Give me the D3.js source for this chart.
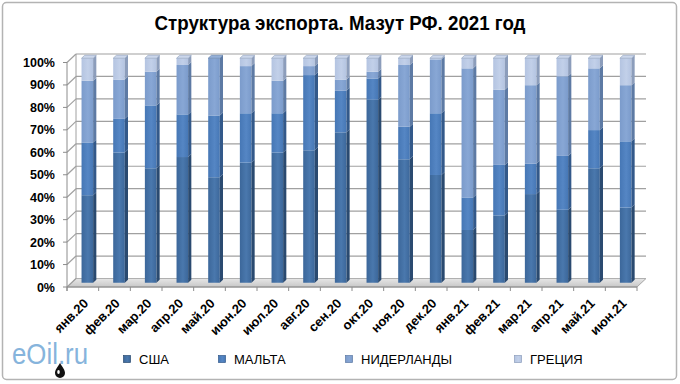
<!DOCTYPE html>
<html>
<head>
<meta charset="utf-8">
<script src="https://cdn.jsdelivr.net/npm/d3@7"></script>
<style>
  body { margin: 0; background: #fff; }
  svg { display: block; }
</style>
</head>
<body>
<svg width="680" height="384"></svg>
<script>
const months = ['янв.20', 'фев.20', 'мар.20', 'апр.20', 'май.20', 'июн.20', 'июл.20', 'авг.20', 'сен.20',
    'окт.20', 'ноя.20', 'дек.20', 'янв.21', 'фев.21', 'мар.21', 'апр.21', 'май.21', 'июн.21'];

// shares, %
const usa = [39, 58, 51, 56, 47, 53.5, 58, 59, 67, 81.5, 55, 48, 23.5, 30, 39.5, 32.5, 51, 33.5];
const malta = [23.5, 15, 28, 19, 27.5, 22, 17.5, 33.5, 18.5, 9.5, 14.5, 27.5, 14.5, 22.5, 13.5, 24, 17, 29.5];
const netherlands = [27.5, 17.5, 15, 22, 25.5, 21, 14.5, 4, 5, 3, 27.5, 24, 57.5, 33.5, 35, 35.5, 27.5, 25];
const greece = [10, 9.5, 6, 3, 0, 3.5, 10, 3.5, 9.5, 6, 3, 0.5, 4.5, 14, 12, 8, 4.5, 12];

const seriesNames = ['США', 'МАЛЬТА', 'НИДЕРЛАНДЫ', 'ГРЕЦИЯ'];
const yTicks = [0, .1, .2, .3, .4, .5, .6, .7, .8, .9, 1];

const colors = {
    'США': {front: '#3c679a', light: '#4a78ad', side: '#2a4a70', top: '#5b83b4'},
    'МАЛЬТА': {front: '#4677b5', light: '#5586c4', side: '#33598a', top: '#6a94c8'},
    'НИДЕРЛАНДЫ': {front: '#7b9bcb', light: '#88a7d5', side: '#5d7aa4', top: '#95b0d8'},
    'ГРЕЦИЯ': {front: '#b4c4e1', light: '#c2d0e9', side: '#8c9dbb', top: '#ccd7ec'}
};

let svg = d3.select('svg');

let rows = months.map(function (m, i) {
    return {month: m, 'США': usa[i], 'МАЛЬТА': malta[i], 'НИДЕРЛАНДЫ': netherlands[i], 'ГРЕЦИЯ': greece[i]};
});

let stack = d3.stack().keys(seriesNames).offset(d3.stackOffsetExpand);
let layers = stack(rows);

// front plane of the 3D box
let x = d3.scaleBand().domain(months).range([67, 637]);
let y = d3.scaleLinear().domain([0, 1]).range([287, 62.5]);
const dx = 9, dy = -8.5;      // depth of the box
const bw = 11.6, sd = 3.2, sdy = -3;  // bar width, bar side depth

// gradients for bar fronts
let defs = svg.append('defs');
seriesNames.forEach(function (s, i) {
    let g = defs.append('linearGradient').attr('id', 'g' + i).attr('x1', 0).attr('x2', 1).attr('y1', 0).attr('y2', 0);
    g.append('stop').attr('offset', '0%').attr('stop-color', colors[s].front);
    g.append('stop').attr('offset', '55%').attr('stop-color', colors[s].light);
    g.append('stop').attr('offset', '100%').attr('stop-color', colors[s].front);
});
let fg = defs.append('linearGradient').attr('id', 'floor').attr('x1', 0).attr('x2', 0).attr('y1', 0).attr('y2', 1);
fg.append('stop').attr('offset', '0%').attr('stop-color', '#e6e6e6');
fg.append('stop').attr('offset', '100%').attr('stop-color', '#c8c8c8');

// outer frame
svg.append('rect')
    .attr('x', 2.5).attr('y', 2.5).attr('width', 674).attr('height', 377)
    .attr('rx', 4)
    .attr('fill', '#fff').attr('stroke', '#b3b3b3').attr('stroke-width', 1.5);

// title
svg.append('text')
    .attr('x', 340).attr('y', 30)
    .attr('text-anchor', 'middle')
    .attr('textLength', 371).attr('lengthAdjust', 'spacingAndGlyphs')
    .style('font-family', '"Liberation Sans", Arial, sans-serif')
    .style('font-weight', 'bold')
    .style('font-size', '20px')
    .text('Структура экспорта. Мазут РФ. 2021 год');

let x0 = x.range()[0], x1 = x.range()[1];
let grid = svg.append('g');

// floor
grid.append('path')
    .attr('d', 'M' + x0 + ',' + y(0) + 'L' + (x0 + dx) + ',' + (y(0) + dy) + 'L' + (x1 + dx) + ',' + (y(0) + dy) + 'L' + x1 + ',' + y(0) + 'Z')
    .attr('fill', 'url(#floor)').attr('stroke', '#a6a6a6').attr('stroke-width', 1);

// back wall grid lines + left wall diagonals
yTicks.forEach(function (t) {
    grid.append('line')
        .attr('x1', x0 + dx).attr('x2', x1 + dx)
        .attr('y1', y(t) + dy).attr('y2', y(t) + dy)
        .attr('stroke', t === 0 ? '#b0b0b0' : '#a0a0a0').attr('stroke-width', 1.2);
    grid.append('line')
        .attr('x1', x0).attr('x2', x0 + dx)
        .attr('y1', y(t)).attr('y2', y(t) + dy)
        .attr('stroke', '#a0a0a0').attr('stroke-width', 1.2);
});
grid.append('line')
    .attr('x1', x0 + dx).attr('x2', x0 + dx).attr('y1', y(0) + dy).attr('y2', y(1) + dy)
    .attr('stroke', '#a0a0a0');
grid.append('line')
    .attr('x1', x0).attr('x2', x0).attr('y1', y(0) + 4).attr('y2', y(1))
    .attr('stroke', '#8c8c8c');

// y ticks
svg.append('g').selectAll('line').data(yTicks).enter().append('line')
    .attr('x1', x0 - 4).attr('x2', x0).attr('y1', function (t) { return y(t); }).attr('y2', function (t) { return y(t); })
    .attr('stroke', '#8c8c8c');
svg.append('g').selectAll('text').data(yTicks).enter().append('text')
    .attr('x', 55).attr('y', function (t) { return y(t) + 4.5; })
    .attr('text-anchor', 'end')
    .style('font-family', '"Liberation Sans", Arial, sans-serif')
    .style('font-weight', 'bold').style('font-size', '12.5px')
    .text(function (t) { return d3.format('.0%')(t); });

// x ticks
let xb = months.map(function (m) { return x(m); }).concat([x1]);
svg.append('g').selectAll('line').data(xb).enter().append('line')
    .attr('x1', function (d) { return d; }).attr('x2', function (d) { return d; })
    .attr('y1', y(0)).attr('y2', y(0) + 4)
    .attr('stroke', '#8c8c8c');
grid.append('line')
    .attr('x1', x0).attr('x2', x1).attr('y1', y(0)).attr('y2', y(0))
    .attr('stroke', '#8c8c8c');

// bars
let bars = svg.append('g');
function barX(m) {
    return x(m) + x.bandwidth() / 2 - bw / 2 + dx / 2;
}
months.forEach(function (m, i) {
    let bx = barX(m);
    let topIdx = -1;
    layers.forEach(function (L, k) { if (L[i][1] - L[i][0] > 0.0005) topIdx = k; });
    layers.forEach(function (L, k) {
        let d = L[i];
        if (d[1] - d[0] <= 0.0005) return;
        let s = L.key;
        let ty = y(d[1]) + dy / 2, by = y(d[0]) + dy / 2;
        bars.append('rect')
            .attr('x', bx).attr('y', ty).attr('width', bw).attr('height', by - ty)
            .attr('fill', 'url(#g' + k + ')');
        bars.append('path')
            .attr('d', 'M' + (bx + bw) + ',' + ty + 'L' + (bx + bw + sd) + ',' + (ty + sdy) + 'L' + (bx + bw + sd) + ',' + (by + sdy) + 'L' + (bx + bw) + ',' + by + 'Z')
            .attr('fill', colors[s].side);
        if (k === topIdx) {
            bars.append('path')
                .attr('d', 'M' + bx + ',' + ty + 'L' + (bx + sd) + ',' + (ty + sdy) + 'L' + (bx + bw + sd) + ',' + (ty + sdy) + 'L' + (bx + bw) + ',' + ty + 'Z')
                .attr('fill', colors[s].top).attr('stroke', colors[s].side).attr('stroke-width', 0.6);
        }
    });
});

// x labels
svg.append('g').selectAll('text').data(months).enter().append('text')
    .attr('transform', function (m) {
        return 'translate(' + (x(m) + x.bandwidth() / 2 + 3) + ',' + (y(0) + 14) + ')rotate(-45)';
    })
    .attr('text-anchor', 'end')
    .attr('dy', '0.35em')
    .style('font-family', '"Liberation Sans", Arial, sans-serif')
    .style('font-weight', 'bold').style('font-size', '13px')
    .text(function (m) { return m; });

// legend
const legendX = [127, 222, 349, 518];
let legend = svg.append('g');
seriesNames.forEach(function (s, k) {
    let lg = legend.append('g').attr('transform', 'translate(' + legendX[k] + ',359)');
    lg.append('rect').attr('x', -3.5).attr('y', -3.5).attr('width', 7).attr('height', 7)
        .attr('fill', 'url(#g' + k + ')').attr('stroke', colors[s].side).attr('stroke-width', 0.7);
    lg.append('text').attr('x', 12).attr('y', 4.5)
        .style('font-family', '"Liberation Sans", Arial, sans-serif')
        .style('font-size', '13px')
        .text(s);
});

// eOil.ru logo
let logo = svg.append('g').attr('transform', 'translate(12,364)');
logo.append('text')
    .attr('textLength', 76).attr('lengthAdjust', 'spacingAndGlyphs')
    .style('font-family', '"Liberation Sans", Arial, sans-serif')
    .style('font-size', '29px')
    .attr('fill', '#86b4dc')
    .text('eOil.ru');
logo.append('path')
    .attr('d', 'M48,-1 C45,4 43,6 43,9 A5,5 0 0 0 53,9 C53,6 51,4 48,-1 Z')
    .attr('fill', '#111');
logo.append('ellipse').attr('cx', 46.5).attr('cy', 8).attr('rx', 1.3).attr('ry', 2).attr('fill', '#fff');
</script>
</body>
</html>
